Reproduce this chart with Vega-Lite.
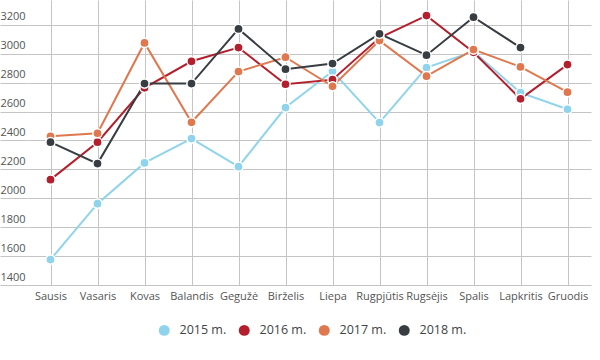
{
  "$schema": "https://vega.github.io/schema/vega-lite/v6.json",
  "autosize": {"type": "none"},
  "padding": {"left": 27, "top": 0, "right": 9, "bottom": 75},
  "width": 564,
  "height": 285,
  "background": "white",
  "config": {
    "view": {"stroke": null},
    "font": "Open Sans",
    "axis": {"labelFont": "Open Sans", "labelColor": "#555555", "labelFontSize": 11, "gridColor": "#c4c4c4", "gridWidth": 1, "domain": false},
    "legend": {"labelFont": "Open Sans", "labelColor": "#444444", "labelFontSize": 12.5}
  },
  "data": {
    "values": [
      {"metai": "2015 m.", "menuo": "Sausis", "verte": 1576},
      {"metai": "2015 m.", "menuo": "Vasaris", "verte": 1963},
      {"metai": "2015 m.", "menuo": "Kovas", "verte": 2245},
      {"metai": "2015 m.", "menuo": "Balandis", "verte": 2413},
      {"metai": "2015 m.", "menuo": "Gegužė", "verte": 2219},
      {"metai": "2015 m.", "menuo": "Birželis", "verte": 2628},
      {"metai": "2015 m.", "menuo": "Liepa", "verte": 2879},
      {"metai": "2015 m.", "menuo": "Rugpjūtis", "verte": 2524},
      {"metai": "2015 m.", "menuo": "Rugsėjis", "verte": 2905},
      {"metai": "2015 m.", "menuo": "Spalis", "verte": 3015},
      {"metai": "2015 m.", "menuo": "Lapkritis", "verte": 2731},
      {"metai": "2015 m.", "menuo": "Gruodis", "verte": 2616},
      {"metai": "2016 m.", "menuo": "Sausis", "verte": 2129},
      {"metai": "2016 m.", "menuo": "Vasaris", "verte": 2388},
      {"metai": "2016 m.", "menuo": "Kovas", "verte": 2764},
      {"metai": "2016 m.", "menuo": "Balandis", "verte": 2948},
      {"metai": "2016 m.", "menuo": "Gegužė", "verte": 3043},
      {"metai": "2016 m.", "menuo": "Birželis", "verte": 2789},
      {"metai": "2016 m.", "menuo": "Liepa", "verte": 2821},
      {"metai": "2016 m.", "menuo": "Rugpjūtis", "verte": 3110},
      {"metai": "2016 m.", "menuo": "Rugsėjis", "verte": 3264},
      {"metai": "2016 m.", "menuo": "Spalis", "verte": 3010},
      {"metai": "2016 m.", "menuo": "Lapkritis", "verte": 2688},
      {"metai": "2016 m.", "menuo": "Gruodis", "verte": 2925},
      {"metai": "2017 m.", "menuo": "Sausis", "verte": 2429},
      {"metai": "2017 m.", "menuo": "Vasaris", "verte": 2450},
      {"metai": "2017 m.", "menuo": "Kovas", "verte": 3075},
      {"metai": "2017 m.", "menuo": "Balandis", "verte": 2526},
      {"metai": "2017 m.", "menuo": "Gegužė", "verte": 2877},
      {"metai": "2017 m.", "menuo": "Birželis", "verte": 2976},
      {"metai": "2017 m.", "menuo": "Liepa", "verte": 2775},
      {"metai": "2017 m.", "menuo": "Rugpjūtis", "verte": 3091},
      {"metai": "2017 m.", "menuo": "Rugsėjis", "verte": 2845},
      {"metai": "2017 m.", "menuo": "Spalis", "verte": 3029},
      {"metai": "2017 m.", "menuo": "Lapkritis", "verte": 2909},
      {"metai": "2017 m.", "menuo": "Gruodis", "verte": 2734},
      {"metai": "2018 m.", "menuo": "Sausis", "verte": 2388},
      {"metai": "2018 m.", "menuo": "Vasaris", "verte": 2240},
      {"metai": "2018 m.", "menuo": "Kovas", "verte": 2794},
      {"metai": "2018 m.", "menuo": "Balandis", "verte": 2794},
      {"metai": "2018 m.", "menuo": "Gegužė", "verte": 3172},
      {"metai": "2018 m.", "menuo": "Birželis", "verte": 2893},
      {"metai": "2018 m.", "menuo": "Liepa", "verte": 2932},
      {"metai": "2018 m.", "menuo": "Rugpjūtis", "verte": 3138},
      {"metai": "2018 m.", "menuo": "Rugsėjis", "verte": 2990},
      {"metai": "2018 m.", "menuo": "Spalis", "verte": 3253},
      {"metai": "2018 m.", "menuo": "Lapkritis", "verte": 3043}
    ]
  },
  "encoding": {
    "x": {
      "field": "menuo", "type": "ordinal",
      "sort": ["Sausis", "Vasaris", "Kovas", "Balandis", "Gegužė", "Birželis", "Liepa", "Rugpjūtis", "Rugsėjis", "Spalis", "Lapkritis", "Gruodis"],
      "scale": {"type": "point", "padding": 0.5},
      "axis": {"title": null, "labelAngle": 0, "grid": true, "ticks": false, "labelPadding": 5}
    },
    "y": {
      "field": "verte", "type": "quantitative",
      "scale": {"domain": [1400, 3372], "nice": false, "zero": false},
      "axis": {"title": null, "format": "d", "values": [1400, 1600, 1800, 2000, 2200, 2400, 2600, 2800, 3000, 3200], "grid": true, "ticks": true, "tickSize": 27, "tickColor": "#c4c4c4", "labelAlign": "left", "labelBaseline": "bottom", "labelPadding": 0, "labelOffset": -3}
    },
    "color": {
      "field": "metai", "type": "nominal",
      "scale": {"domain": ["2015 m.", "2016 m.", "2017 m.", "2018 m."], "range": ["#8fd4ec", "#b31f2c", "#e0784f", "#383d42"]},
      "legend": {"title": null, "orient": "none", "legendX": 131, "legendY": 324, "direction": "horizontal", "symbolType": "circle", "symbolSize": 120, "symbolStrokeWidth": 0, "symbolOpacity": 1, "labelOffset": 9, "columnPadding": 11}
    }
  },
  "layer": [
    {"mark": {"type": "line", "strokeWidth": 2}},
    {"mark": {"type": "point", "filled": true, "opacity": 1, "size": 85, "stroke": "white", "strokeWidth": 1.5}}
  ]
}
